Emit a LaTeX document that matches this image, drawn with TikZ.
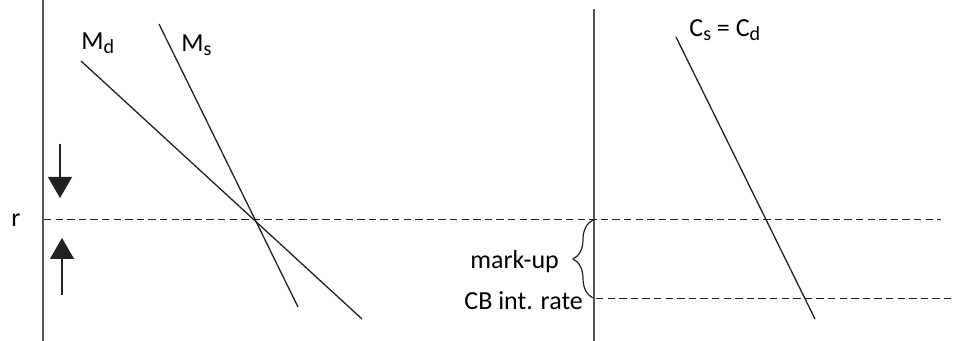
\documentclass[tikz,border=0pt]{standalone}
\usepackage{fontspec}
\setmainfont{Carlito}
\usepackage{tikz}
\usetikzlibrary{arrows.meta, positioning, decorations.pathreplacing}
\definecolor{AxisGrey}{HTML}{555555}
\definecolor{CurveInk}{HTML}{222222}
\newcommand{\lowsub}[1]{\raisebox{-1.6pt}{\fontsize{10}{12}\selectfont #1}}
\tikzset{
  axisline/.style={draw=AxisGrey, line width=0.9pt},
  curveline/.style={draw=CurveInk, line width=0.65pt},
  rateline/.style={draw=CurveInk, line width=0.5pt, dash pattern=on 3.7pt off 2.1pt},
  movearrow/.style={-{Triangle[width=12pt, length=10.5pt]}, draw=CurveInk, line width=0.6pt},
  curvelabel/.style={inner sep=0pt, anchor=base west, font=\fontsize{13}{15}\selectfont},
  markbrace/.style={draw=CurveInk, line width=0.6pt, decorate, decoration={brace, amplitude=10pt}}
}

\begin{document}
\begin{tikzpicture}[x=0.5pt, y=-0.5pt]
  \useasboundingbox (0,0) rectangle (967,341);
  % axes of the two panels
  \coordinate (LTop) at (43,0);
  \coordinate (LBot) at (43,341);
  \coordinate (RTop) at (594,9);
  \coordinate (RBot) at (594,341);
  \draw[axisline] (LTop) -- (LBot);
  \draw[axisline] (RTop) -- (RBot);
  % money demand and supply
  \coordinate (MdTop) at (81,61);
  \coordinate (MdEnd) at (362,319);
  \coordinate (MsTop) at (159,24);
  \coordinate (MsEnd) at (298,307);
  \draw[curveline] (MdTop) -- (MdEnd);
  \draw[curveline] (MsTop) -- (MsEnd);
  % credit market
  \coordinate (CTop) at (676,37);
  \coordinate (CEnd) at (815,319);
  \draw[curveline] (CTop) -- (CEnd);
  % interest rates
  \coordinate (rStart) at (44,220);
  \coordinate (rEnd) at (941,220);
  \coordinate (cbStart) at (596,298);
  \coordinate (cbEnd) at (952,298);
  \draw[rateline] (rStart) -- (rEnd);
  \draw[rateline] (cbStart) -- (cbEnd);
  % adjustment arrows
  \coordinate (downTail) at (60,144);
  \coordinate (downTip) at (60,198);
  \coordinate (upTail) at (62,295);
  \coordinate (upTip) at (62,238);
  \draw[movearrow] (downTail) -- (downTip);
  \draw[movearrow] (upTail) -- (upTip);
  % mark-up brace
  \coordinate (braceLow) at (593,298);
  \coordinate (braceHigh) at (593,220);
  \draw[markbrace] (braceLow) -- (braceHigh);
  % labels
  \node[curvelabel] (rLab) at (11,227) {r};
  \node[curvelabel] (MdLab) at (81,50) {M\lowsub{d}};
  \node[curvelabel] (MsLab) at (181,52) {M\lowsub{s}};
  \node[curvelabel] (CLab) at (689,37) {C\lowsub{s} = C\lowsub{d}};
  \node[curvelabel] (markLab) at (470,269) {mark-up};
  \node[curvelabel] (cbLab) at (464,309) {CB int. rate};
\end{tikzpicture}
\end{document}
